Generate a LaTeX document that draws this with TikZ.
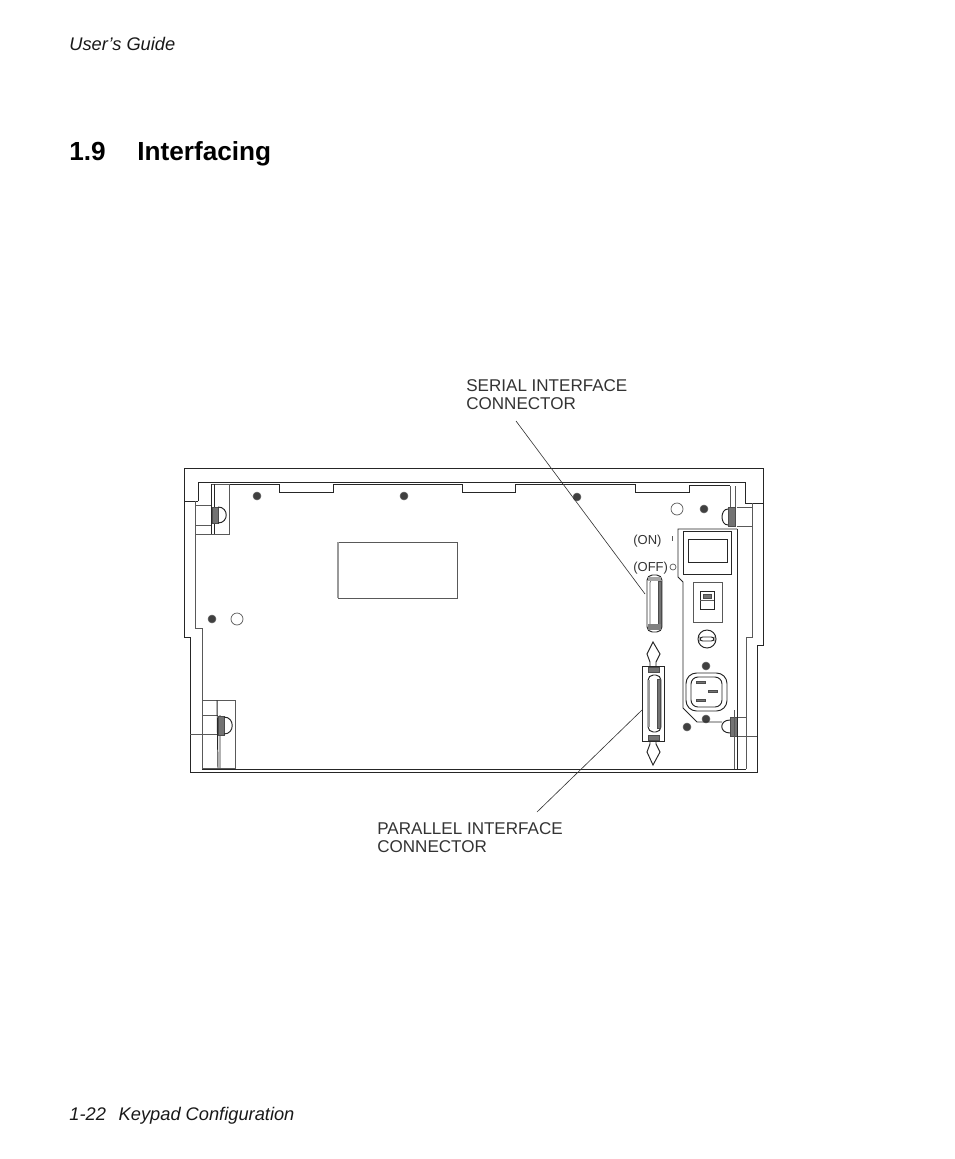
\documentclass[tikz,border=0pt]{standalone}
\usepackage{fontspec}
\setmainfont{Liberation Sans}
\usetikzlibrary{positioning}
\tikzset{
	caseline/.style={line width=0.55pt, color=black!85},
	thinline/.style={line width=0.4pt, color=black!65},
	screw/.style={fill=black!75, draw=black!60, line width=0.3pt},
	hatch/.style={fill=black!55, draw=black!70, line width=0.3pt},
	pagetext/.style={anchor=base west, inner sep=0pt, font=\fontsize{10.4}{12}\selectfont\itshape, color=black!90},
	partlabel/.style={anchor=base west, inner sep=0pt, align=left, font=\fontsize{9.7}{10.2}\selectfont, color=black!80},
	smalllabel/.style={anchor=base west, inner sep=0pt, font=\fontsize{7.4}{9}\selectfont, color=black!80},
	leader/.style={line width=0.35pt, color=black!80}
}
\begin{document}
\begin{tikzpicture}[x=0.02cm, y=-0.02cm]
	\useasboundingbox (0,0) rectangle (954,1159);
	\node[pagetext] (guide) at (69,51) {User’s Guide};
	\node[pagetext] (footer) at (69,1120) {1-22\hspace{0.7em}Keypad Configuration};
	\node[pagetext, font=\fontsize{14.9}{16}\selectfont\bfseries, color=black] (secnum) at (69,160) {1.9};
	\node[pagetext, font=\fontsize{14.9}{16}\selectfont\bfseries, color=black] (title) at (137,160) {Interfacing};

	% outer case
	\draw[caseline] (198,501) -- (184,501) -- (184,468) -- (763,468) -- (763,645) -- (757,645) -- (757,772) -- (190,772) -- (190,637) -- (184,637) -- (184,501);
	\draw[caseline] (198,501) -- (198,482) -- (745,482) -- (745,503) -- (763,503);
	\draw[thinline] (195,501) -- (195,628) -- (202,628) -- (202,770);
	\draw[caseline] (202,769) -- (746,769);
	\draw[thinline] (752,503) -- (752,637) -- (746,637) -- (746,769);

	% back panel edge with notches
	\draw[caseline] (211,484) -- (279,484) -- (279,492) -- (333,492) -- (333,484) -- (462,484) -- (462,492) -- (515,492) -- (515,484) -- (635,484) -- (635,492) -- (689,492) -- (689,485) -- (730,485);

	% left feet
	\draw[thinline] (211,484) rectangle (229,534);
	\draw[thinline] (195,505) -- (211,505) (195,525) -- (211,525) (195,534) -- (211,534);
	\draw[caseline] (211,484) -- (211,534) (214,484) -- (214,534);
	\fill[hatch] (212,507) rectangle (218,523);
	\draw[caseline] (218,507) .. controls (229,507) and (229,523) .. (218,523);
	\draw[thinline] (202,700) rectangle (235,768);
	\draw[thinline] (202,715) -- (218,715) (190,734) -- (218,734);
	\draw[caseline] (217,700) -- (218,768) (220,715) -- (220,768);
	\fill[hatch] (218,716) rectangle (224,735);
	\draw[caseline] (224,717) .. controls (235,717) and (235,734) .. (224,734);

	% right feet
	\draw[thinline] (737,507) -- (752,507) (737,526) -- (752,526);
	\draw[thinline] (730,486) -- (730,507) (735,486) -- (735,526);
	\fill[hatch] (728,507) rectangle (735,526);
	\draw[caseline] (728,509) .. controls (720,509) and (720,525) .. (728,525);
	\draw[thinline] (737,717) -- (746,717) (737,736) -- (757,736);
	\fill[hatch] (730,717) rectangle (737,736);
	\draw[caseline] (730,720) .. controls (719,720) and (719,733) .. (730,733);

	% label plate
	\draw[thinline] (338,542) rectangle (457,598);
	\draw[thinline, line width=0.8pt, color=black!40] (338,542) -- (338,598);

	% screws and holes
	\foreach \px/\py in {257/496, 404/496, 577/497, 704/509, 212/619, 706/666, 706/719, 687/727} {
		\fill[screw] (\px,\py) circle (4);
	}
	\draw[thinline] (237,619) circle (6);
	\draw[thinline] (677,509) circle (6);

	% switch and power panel
	\draw[caseline] (737,529) -- (678,529) -- (678,577) -- (683,582) -- (683,708) -- (697,722) -- (722,722);
	\draw[caseline] (737,529) -- (737,769);
	\draw[thinline] (734,710) -- (734,769);
	\draw[caseline] (683,531) rectangle (731,574);
	\draw[caseline] (688,539) rectangle (727,562);
	\draw[thinline] (693,582) rectangle (722,622);
	\draw[caseline] (700,591) rectangle (714,609);
	\draw[thinline] (700,600) -- (714,600);
	\fill[hatch] (703,594) rectangle (711,598);
	\draw[caseline] (707,639) circle (9);
	\draw[caseline, rounded corners=1.5] (700,637) rectangle (714,641);
	\draw[caseline, rounded corners=6] (686,673) rectangle (727,711);
	\draw[caseline, rounded corners=4] (691,677) rectangle (722,707);
	\foreach \pinx/\piny in {696/682, 708/691, 696/700} {
		\fill[hatch] (\pinx,\piny-1) rectangle (\pinx+9,\piny+1);
	}

	% on and off marks
	\node[smalllabel] (onlabel) at (633,544) {(ON)};
	\node[smalllabel] (offlabel) at (633,571) {(OFF)};
	\draw[thinline] (672,536) -- (672,541);
	\draw[thinline] (673,567) circle (3);

	% serial connector
	\draw[caseline, rounded corners=3] (647,575) rectangle (662,632);
	\draw[thinline, rounded corners=2] (650,579) rectangle (659,628);
	\fill[hatch] (658,581) rectangle (661,626);
	\fill[black!50] (648,624) rectangle (661,630);
	\fill[black!35] (648,577) rectangle (661,581);

	% parallel connector
	\draw[caseline] (642,666) rectangle (664,741);
	\draw[caseline, rounded corners=3] (648,675) rectangle (661,732);
	\fill[hatch] (657,679) rectangle (660,728);
	\fill[black!40] (648,680) rectangle (650,727);
	\fill[hatch] (648,667) rectangle (659,672);
	\fill[hatch] (648,735) rectangle (659,740);
	\draw[caseline] (650,666) -- (650,662) -- (647,654) -- (653,642) -- (660,654) -- (656,662) -- (656,666);
	\draw[caseline] (650,741) -- (650,744) -- (647,752) -- (653,765) -- (660,752) -- (656,744) -- (656,741);

	% part labels
	\node[partlabel] (seriallabel) at (466,409) {SERIAL INTERFACE\\CONNECTOR};
	\node[partlabel] (parallellabel) at (377,852) {PARALLEL INTERFACE\\CONNECTOR};
	\coordinate (serialstart) at (516,421);
	\coordinate (serialend) at (645,594);
	\coordinate (parallelstart) at (537,812);
	\coordinate (parallelend) at (642,710);
	\draw[leader] (serialstart) -- (serialend);
	\draw[leader] (parallelstart) -- (parallelend);
\end{tikzpicture}
\end{document}
